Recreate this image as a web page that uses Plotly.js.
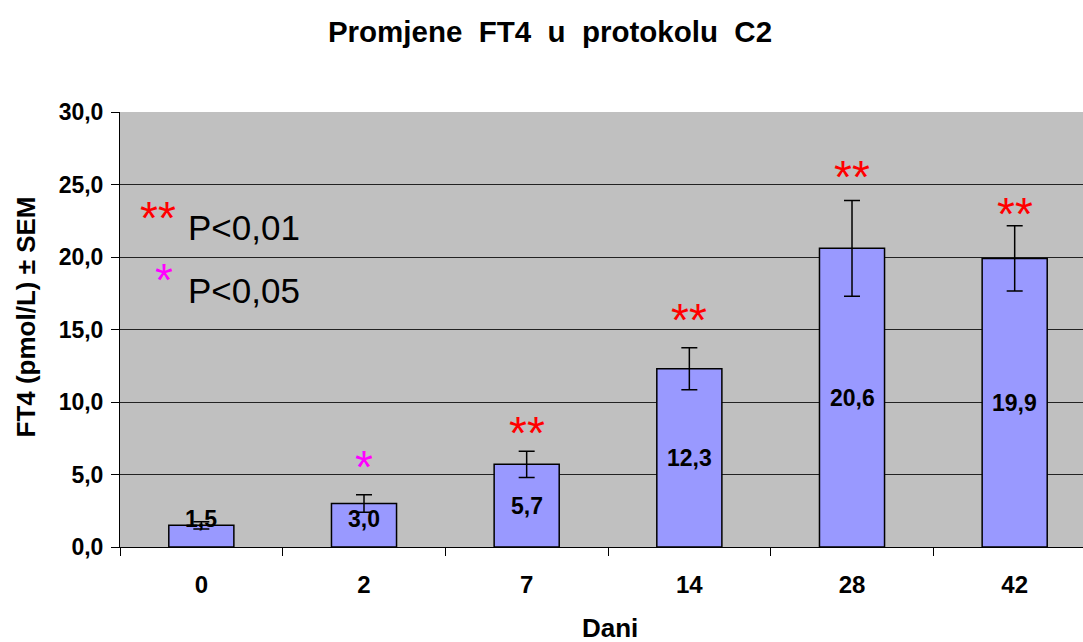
<!DOCTYPE html>
<html><head><meta charset="utf-8">
<script src="https://cdn.plot.ly/plotly-3.0.1.min.js"></script>
<style>body{margin:0;background:#fff}#c{width:1083px;height:642px}</style>
</head><body><div id="c"></div>
<script>
const days = ["0","2","7","14","28","42"];
const ft4 = [1.5, 3.0, 5.7, 12.3, 20.6, 19.9];
const sem = [0.25, 0.6, 0.9, 1.45, 3.3, 2.25];
const sig = ["", "*", "**", "**", "**", "**"];
const starLevel = [0, 5.9, 8.3, 16.1, 25.9, 23.4];
const labels = ["1,5", "3,0", "5,7", "12,3", "20,6", "19,9"];

const F = "Arial, 'Liberation Sans', sans-serif";
const L = 120, T = 112, W = 963, H = 435;
const px = x => (x - L) / W, py = y => (T + H - y) / H;
const ann = [];
days.forEach((d,i)=>{
  ann.push({x:i, y:Math.max(ft4[i]/2, 1.9), xref:'x', yref:'y', xanchor:'center', yanchor:'middle', text:'<b>'+labels[i]+'</b>', showarrow:false,
    font:{family:F, size:23, color:'#000'}});
  if(sig[i]) ann.push({x:i, y:starLevel[i], xref:'x', yref:'y', xanchor:'center', yanchor:'middle', text:sig[i], showarrow:false, yshift:-6,
    font:{family:F, size:46, color: sig[i]==='**' ? '#FF0000' : '#FF00FF'}});
});
ann.push({xref:'paper', yref:'paper', x:px(157.5), y:py(212), xanchor:'center', yanchor:'middle', yshift:-6, text:'**', showarrow:false, font:{family:F,size:46,color:'#FF0000'}});
ann.push({xref:'paper', yref:'paper', x:px(186), y:py(227.5), xanchor:'left', yanchor:'middle', text:'P&lt;0,01', showarrow:false, font:{family:F,size:35,color:'#000'}});
ann.push({xref:'paper', yref:'paper', x:px(164), y:py(274), xanchor:'center', yanchor:'middle', yshift:-6, text:'*', showarrow:false, font:{family:F,size:46,color:'#FF00FF'}});
ann.push({xref:'paper', yref:'paper', x:px(186), y:py(290.5), xanchor:'left', yanchor:'middle', text:'P&lt;0,05', showarrow:false, font:{family:F,size:35,color:'#000'}});
// axis titles
ann.push({xref:'paper', yref:'paper', x:px(25), y:py(317.5), xanchor:'center', yanchor:'middle', textangle:-90,
  text:'<b>FT4 (pmol/L) ± SEM</b>', showarrow:false, font:{family:F,size:26,color:'#000'}});
ann.push({xref:'paper', yref:'paper', x:px(610), y:py(628), xanchor:'center', yanchor:'middle',
  text:'<b>Dani</b>', showarrow:false, font:{family:F,size:26,color:'#000'}});

Plotly.newPlot('c', [{
  type:'bar', x:days, y:ft4, width:0.4,
  marker:{color:'#9999FF', line:{color:'#000', width:1.5}},
  error_y:{type:'data', array:sem, visible:true, color:'#000', thickness:1.5, width:8},
  hoverinfo:'none'
}], {
  width:1083, height:642,
  margin:{l:120, r:0, t:112, b:95},
  paper_bgcolor:'#fff', plot_bgcolor:'#C0C0C0',
  separators:', ',
  showlegend:false,
  title:{text:'<b>Promjene&nbsp; FT4&nbsp; u&nbsp; protokolu&nbsp; C2</b>', font:{family:F, size:29.5, color:'#000'}, x:0.4465, xanchor:'center', y:0.95, yanchor:'middle', xref:'paper'},
  xaxis:{type:'category', range:[-0.5, 5.42], showgrid:false, ticks:'outside', tickson:'boundaries', ticklen:8, tickcolor:'#000',
    showline:true, linecolor:'#000', linewidth:1,
    tickfont:{family:F, size:24, color:'#000', weight:'bold'}, ticklabelstandoff:16},
  yaxis:{range:[0,30], dtick:5, tickformat:'.1f', showgrid:true, gridcolor:'#222', gridwidth:1,
    ticks:'outside', ticklen:8, tickcolor:'#000', showline:true, linecolor:'#000', zeroline:false,
    tickfont:{family:F, size:23, color:'#000', weight:'bold'}, ticklabelstandoff:3},
  annotations:ann
}, {staticPlot:true});
</script></body></html>
